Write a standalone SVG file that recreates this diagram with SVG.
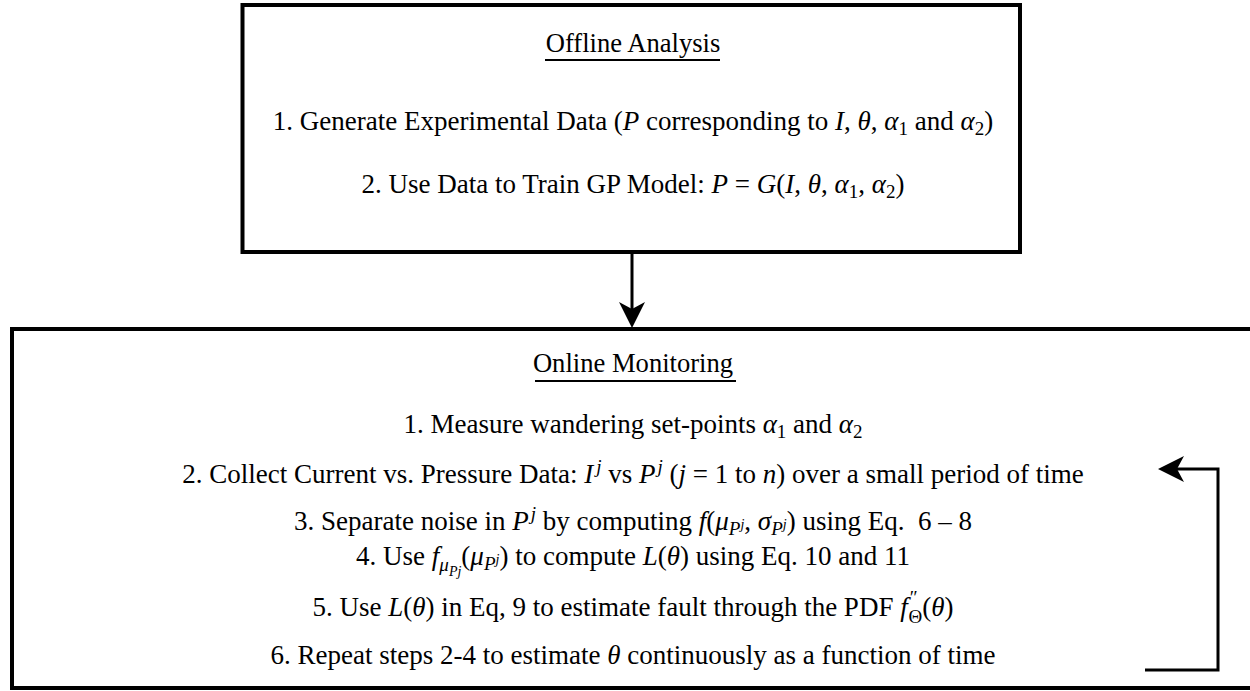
<svg xmlns="http://www.w3.org/2000/svg" width="1250" height="691" viewBox="0 0 1250 691">
<style>
  .box { fill: #ffffff; stroke: #000000; stroke-width: 4; }
  .t { font-family: "Liberation Serif", "Times New Roman", serif; font-size: 27px; fill: #000000; text-anchor: middle; }
  .h { font-size: 26.6px; }
  .m { font-style: italic; }
  .s { font-size: 19px; }
  .ss { font-size: 14px; }
  .ul { stroke: #000000; stroke-width: 2; }
  .conn { fill: none; stroke: #000000; stroke-width: 3; marker-end: url(#arrow); }
</style>
<defs>
  <marker id="arrow" markerUnits="userSpaceOnUse" viewBox="0 -13 26 26" refX="7" refY="0" markerWidth="26" markerHeight="26" orient="auto">
    <path d="M0,-13 L26,0 L0,13 L7,0 Z" fill="#000000"/>
  </marker>
</defs>
<rect width="1250" height="691" fill="#ffffff"/>

<g id="offline">
  <rect class="box" x="242.5" y="5" width="777.5" height="247"/>
  <text class="t h" x="633" y="52">Offline Analysis</text>
  <line class="ul" x1="545" y1="60" x2="720" y2="60"/>
  <text class="t" x="633" y="130">1. Generate Experimental Data (<tspan class="m">P</tspan> corresponding to <tspan class="m">I</tspan>, <tspan class="m">θ</tspan>, <tspan class="m">α</tspan><tspan class="s" dy="5">1</tspan><tspan dy="-5"> and </tspan><tspan class="m">α</tspan><tspan class="s" dy="5">2</tspan><tspan dy="-5">)</tspan></text>
  <text class="t" x="633" y="193">2. Use Data to Train GP Model: <tspan class="m">P</tspan> = <tspan class="m">G</tspan>(<tspan class="m">I</tspan>, <tspan class="m">θ</tspan>, <tspan class="m">α</tspan><tspan class="s" dy="5">1</tspan><tspan dy="-5">, </tspan><tspan class="m">α</tspan><tspan class="s" dy="5">2</tspan><tspan dy="-5">)</tspan></text>
</g>

<g id="online">
  <rect class="box" x="12" y="329" width="1250" height="359"/>
  <text class="t h" x="633" y="372">Online Monitoring</text>
  <line class="ul" x1="535" y1="381" x2="736" y2="381"/>
  <text class="t" x="633" y="433">1. Measure wandering set-points <tspan class="m">α</tspan><tspan class="s" dy="5">1</tspan><tspan dy="-5"> and </tspan><tspan class="m">α</tspan><tspan class="s" dy="5">2</tspan></text>
  <text class="t" x="633" y="483">2. Collect Current vs. Pressure Data: <tspan class="m">I</tspan><tspan class="s m" dx="3" dy="-10">j</tspan><tspan dy="10"> vs </tspan><tspan class="m">P</tspan><tspan class="s m" dx="2" dy="-10">j</tspan><tspan dy="10"> (</tspan><tspan class="m">j</tspan> = 1 to <tspan class="m">n</tspan>) over a small period of time</text>
  <text class="t" x="633" y="530">3. Separate noise in <tspan class="m">P</tspan><tspan class="s m" dx="2" dy="-10">j</tspan><tspan dy="10"> by computing </tspan><tspan class="m">f</tspan>(<tspan class="m">μ</tspan><tspan class="s m" dy="5">P</tspan><tspan class="ss m" dy="-6">j</tspan><tspan dy="1">, </tspan><tspan class="m">σ</tspan><tspan class="s m" dy="5">P</tspan><tspan class="ss m" dy="-6">j</tspan><tspan dy="1">) using Eq.&#160; 6 – 8</tspan></text>
  <text class="t" x="633" y="565">4. Use <tspan class="m">f</tspan><tspan class="s m" dy="6">μ</tspan><tspan class="ss m" dy="5">Pj</tspan><tspan dy="-11">(</tspan><tspan class="m">μ</tspan><tspan class="s m" dy="5">P</tspan><tspan class="ss m" dy="-6">j</tspan><tspan dy="1">) to compute </tspan><tspan class="m">L</tspan>(<tspan class="m">θ</tspan>) using Eq. 10 and 11</text>
  <text class="t" x="633" y="616">5. Use <tspan class="m">L</tspan>(<tspan class="m">θ</tspan>) in Eq, 9 to estimate fault through the PDF <tspan class="m">f</tspan><tspan class="s" dx="2" dy="-12">″</tspan><tspan class="s" dx="-9" dy="19">Θ</tspan><tspan dy="-7">(</tspan><tspan class="m">θ</tspan>)</text>
  <text class="t" x="633" y="664">6. Repeat steps 2-4 to estimate <tspan class="m">θ</tspan> continuously as a function of time</text>
</g>

<g id="connectors">
  <path class="conn" d="M632,254 V309"/>
  <path class="conn" d="M1145,670 H1218 V469 H1177"/>
</g>
</svg>
